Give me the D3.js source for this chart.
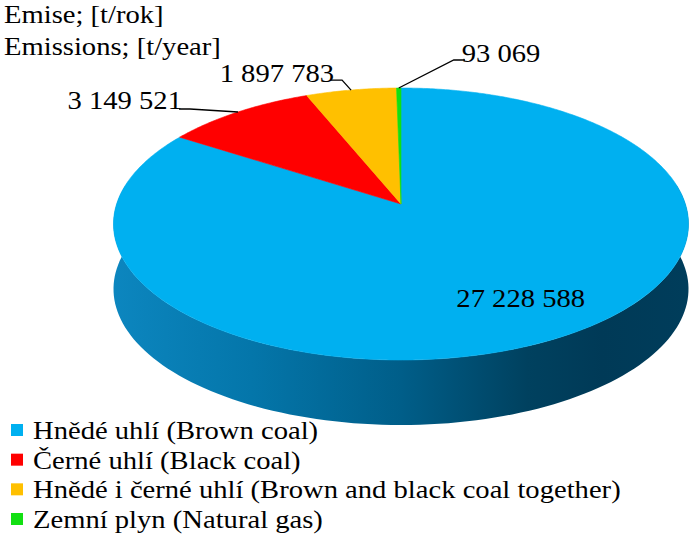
<!DOCTYPE html>
<html>
<head>
<meta charset="utf-8">
<script src="https://cdn.jsdelivr.net/npm/d3@7"></script>
<style>
  body { margin: 0; background: #fff; }
</style>
</head>
<body>
<div id="chart"></div>
<script>
// Chart data
const categories = [
  "Hnědé uhlí (Brown coal)",
  "Černé uhlí (Black coal)",
  "Hnědé i černé uhlí (Brown and black coal together)",
  "Zemní plyn (Natural gas)"
];
const values = [27228588, 3149521, 1897783, 93069];
const colors = ["#00b0f0", "#ff0000", "#ffc000", "#12e012"];
const titleLines = ["Emise; [t/rok]", "Emissions; [t/year]"];

// Label placement per slice (layout only)
const labelLayout = [
  { inside: true, f: 0.79 },
  { elbow: [-48, -3], text: [-56, -4] },
  { elbow: [-9, -10], text: [-17, -9] },
  { elbow: [55, -28], text: [63, -27] }
];

const W = 693, H = 537;
const fontSize = 26, stretch = 1.1;

const svg = d3.select("#chart").append("svg")
  .attr("width", W)
  .attr("height", H);

// widen glyphs a little, like the original export
function widen(sel) {
  sel.each(function () {
    const len = this.getComputedTextLength();
    d3.select(this)
      .attr("textLength", len * stretch)
      .attr("lengthAdjust", "spacingAndGlyphs");
  });
}

// Perspective ellipse geometry for the top face
const cx = 401, apexY = 204, topY = 88, botY = 360, rx = 287.5, depth = 65;
const c = (2 * apexY - topY - botY) / (botY - topY);
const a = botY * (1 + c) - apexY;
const s = rx * Math.sqrt(1 - c * c);

// project angle (clockwise from 12 o'clock) at radius fraction f
function proj(theta, f = 1) {
  const v = -Math.cos(theta) * f;
  const d = 1 + c * v;
  return [cx + s * f * Math.sin(theta) / d, (a * v + apexY) / d];
}

const pie = d3.pie().sort(null).value(d => d)
  .startAngle(0).endAngle(2 * Math.PI);
const arcs = pie(values);

const line = d3.line();

// Side of the cylinder (visible front half, between the widest points)
const th0 = Math.PI - Math.acos(c), th1 = Math.PI + Math.acos(c);
const sidePts = [];
for (let t = th0; t <= th1 + 1e-9; t += (th1 - th0) / 120) sidePts.push(proj(t));
for (let t = th1; t >= th0 - 1e-9; t -= (th1 - th0) / 120) {
  const p = proj(t);
  sidePts.push([p[0], p[1] + depth]);
}

const defs = svg.append("defs");
const grad = defs.append("linearGradient")
  .attr("id", "sideGrad")
  .attr("gradientUnits", "userSpaceOnUse")
  .attr("x1", cx - rx).attr("x2", cx + rx)
  .attr("y1", 0).attr("y2", 0);
[[0, "#0c86bf"], [0.24, "#0476aa"], [0.5, "#005e89"], [0.72, "#00415f"],
 [0.85, "#003a57"], [1, "#003d5b"]].forEach(([o, col]) => {
  grad.append("stop").attr("offset", o).attr("stop-color", col);
});

svg.append("path")
  .attr("d", line(sidePts) + "Z")
  .attr("fill", "url(#sideGrad)");

// Top face slices
svg.append("g").selectAll("path")
  .data(arcs)
  .join("path")
  .attr("d", d => {
    const pts = [[cx, apexY]];
    const n = Math.max(4, Math.ceil((d.endAngle - d.startAngle) / 0.01));
    for (let i = 0; i <= n; i++) {
      pts.push(proj(d.startAngle + (d.endAngle - d.startAngle) * i / n));
    }
    return line(pts) + "Z";
  })
  .attr("fill", (d, i) => colors[i])
  .attr("stroke", (d, i) => colors[i])
  .attr("stroke-width", 0.6);

// Data labels
const fmt = v => d3.format(",")(v).replace(/,/g, " ");
const labels = svg.append("g");
arcs.forEach((d, i) => {
  const L = labelLayout[i];
  const mid = (d.startAngle + d.endAngle) / 2;
  if (L.inside) {
    const p = proj(mid, L.f);
    labels.append("text")
      .attr("x", p[0]).attr("y", p[1])
      .attr("text-anchor", "middle")
      .attr("font-family", "Liberation Serif")
      .attr("font-size", fontSize)
      .text(fmt(values[i]))
      .call(widen);
  } else {
    const p = proj(mid);
    const e = [p[0] + L.elbow[0], p[1] + L.elbow[1]];
    const dir = Math.sign(L.text[0]);
    const t = [p[0] + L.text[0], p[1] + L.text[1]];
    labels.append("path")
      .attr("d", line([p, e, [t[0] + dir * 3, e[1]]]))
      .attr("fill", "none")
      .attr("stroke", "#000")
      .attr("stroke-width", 1.3);
    labels.append("text")
      .attr("x", t[0]).attr("y", t[1] + 1)
      .attr("text-anchor", dir < 0 ? "end" : "start")
      .attr("font-family", "Liberation Serif")
      .attr("font-size", fontSize)
      .text(fmt(values[i]))
      .call(widen);
  }
});

// Title (axis caption)
svg.append("g").selectAll("text")
  .data(titleLines)
  .join("text")
  .attr("x", 4)
  .attr("y", (d, i) => 23 + i * 32)
  .attr("font-family", "Liberation Serif")
  .attr("font-size", fontSize)
  .text(d => d)
  .call(widen);

// Legend
const legendY = d3.scaleLinear().domain([0, 3]).range([439, 528]);
const legend = svg.append("g").selectAll("g")
  .data(categories)
  .join("g")
  .attr("transform", (d, i) => `translate(0,${legendY(i)})`);
legend.append("rect")
  .attr("x", 11).attr("y", -15)
  .attr("width", 12).attr("height", 12)
  .attr("fill", (d, i) => colors[i]);
legend.append("text")
  .attr("x", 33).attr("y", 0)
  .attr("font-family", "Liberation Serif")
  .attr("font-size", fontSize)
  .text(d => d)
  .call(widen);
</script>
</body>
</html>
